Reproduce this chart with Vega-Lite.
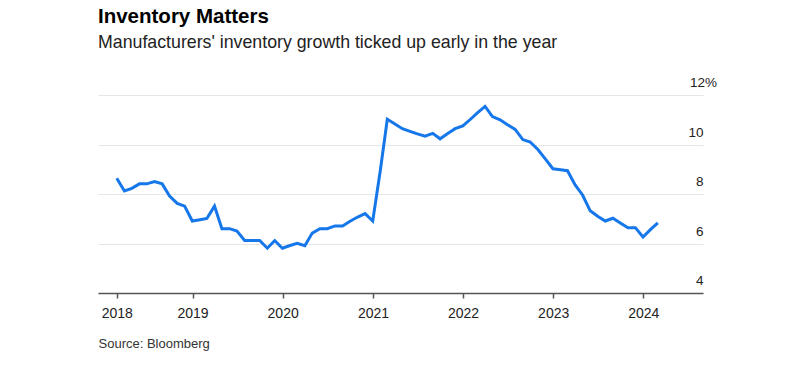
{
  "$schema": "https://vega.github.io/schema/vega-lite/v6.json",
  "width": 605,
  "height": 198,
  "autosize": {"type": "none"},
  "padding": {"left": 98, "top": 95, "right": 96, "bottom": 74},
  "background": "white",
  "title": {
    "text": "Inventory Matters",
    "subtitle": "Manufacturers' inventory growth ticked up early in the year",
    "anchor": "start",
    "frame": "group",
    "offset": 24,
    "font": "Liberation Sans",
    "fontSize": 20.5,
    "fontWeight": "bold",
    "color": "#000000",
    "subtitleFont": "Liberation Sans",
    "subtitleFontSize": 17.75,
    "subtitleColor": "#222222",
    "subtitlePadding": 6.5
  },
  "config": {
    "view": {"stroke": null},
    "axis": {"labelFont": "Liberation Sans", "titleFont": "Liberation Sans"}
  },
  "data": {
    "values": [
      {"date": "2018-02-28", "value": 8.64},
      {"date": "2018-03-31", "value": 8.12},
      {"date": "2018-04-30", "value": 8.23},
      {"date": "2018-05-31", "value": 8.41},
      {"date": "2018-06-30", "value": 8.41},
      {"date": "2018-07-31", "value": 8.50},
      {"date": "2018-08-31", "value": 8.41},
      {"date": "2018-09-30", "value": 7.92},
      {"date": "2018-10-31", "value": 7.62},
      {"date": "2018-11-30", "value": 7.51},
      {"date": "2018-12-31", "value": 6.91},
      {"date": "2019-01-31", "value": 6.96},
      {"date": "2019-02-28", "value": 7.01},
      {"date": "2019-03-31", "value": 7.51},
      {"date": "2019-04-30", "value": 6.60},
      {"date": "2019-05-31", "value": 6.60},
      {"date": "2019-06-30", "value": 6.50},
      {"date": "2019-07-31", "value": 6.12},
      {"date": "2019-08-31", "value": 6.12},
      {"date": "2019-09-30", "value": 6.12},
      {"date": "2019-10-31", "value": 5.81},
      {"date": "2019-11-30", "value": 6.12},
      {"date": "2019-12-31", "value": 5.81},
      {"date": "2020-01-31", "value": 5.92},
      {"date": "2020-02-29", "value": 6.01},
      {"date": "2020-03-31", "value": 5.91},
      {"date": "2020-04-30", "value": 6.42},
      {"date": "2020-05-31", "value": 6.60},
      {"date": "2020-06-30", "value": 6.60},
      {"date": "2020-07-31", "value": 6.71},
      {"date": "2020-08-31", "value": 6.71},
      {"date": "2020-09-30", "value": 6.90},
      {"date": "2020-10-31", "value": 7.07},
      {"date": "2020-11-30", "value": 7.21},
      {"date": "2020-12-31", "value": 6.91},
      {"date": "2021-01-31", "value": 8.97},
      {"date": "2021-02-28", "value": 11.02},
      {"date": "2021-03-31", "value": 10.83},
      {"date": "2021-04-30", "value": 10.64},
      {"date": "2021-05-31", "value": 10.53},
      {"date": "2021-06-30", "value": 10.43},
      {"date": "2021-07-31", "value": 10.34},
      {"date": "2021-08-31", "value": 10.45},
      {"date": "2021-09-30", "value": 10.23},
      {"date": "2021-10-31", "value": 10.44},
      {"date": "2021-11-30", "value": 10.64},
      {"date": "2021-12-31", "value": 10.75},
      {"date": "2022-01-31", "value": 11.02},
      {"date": "2022-02-28", "value": 11.28},
      {"date": "2022-03-31", "value": 11.54},
      {"date": "2022-04-30", "value": 11.13},
      {"date": "2022-05-31", "value": 11.00},
      {"date": "2022-06-30", "value": 10.80},
      {"date": "2022-07-31", "value": 10.61},
      {"date": "2022-08-31", "value": 10.20},
      {"date": "2022-09-30", "value": 10.10},
      {"date": "2022-10-31", "value": 9.80},
      {"date": "2022-11-30", "value": 9.42},
      {"date": "2022-12-31", "value": 9.02},
      {"date": "2023-01-31", "value": 8.98},
      {"date": "2023-02-28", "value": 8.94},
      {"date": "2023-03-31", "value": 8.37},
      {"date": "2023-04-30", "value": 7.96},
      {"date": "2023-05-31", "value": 7.32},
      {"date": "2023-06-30", "value": 7.10},
      {"date": "2023-07-31", "value": 6.91},
      {"date": "2023-08-31", "value": 7.02},
      {"date": "2023-09-30", "value": 6.83},
      {"date": "2023-10-31", "value": 6.64},
      {"date": "2023-11-30", "value": 6.64},
      {"date": "2023-12-31", "value": 6.26},
      {"date": "2024-01-31", "value": 6.57},
      {"date": "2024-02-29", "value": 6.83}
    ]
  },
  "mark": {"type": "line", "color": "#1577ea", "strokeWidth": 3},
  "encoding": {
    "x": {
      "field": "date",
      "type": "temporal",
      "scale": {"domain": [{"year": 2017, "month": 12, "date": 14}, {"year": 2024, "month": 8, "date": 30}]},
      "axis": {
        "values": [
          {"year": 2018, "month": 2, "date": 28},
          {"year": 2019, "month": 1, "date": 1},
          {"year": 2020, "month": 1, "date": 1},
          {"year": 2021, "month": 1, "date": 1},
          {"year": 2022, "month": 1, "date": 1},
          {"year": 2023, "month": 1, "date": 1},
          {"year": 2024, "month": 1, "date": 1}
        ],
        "format": "%Y",
        "grid": false,
        "domain": true,
        "domainColor": "#555555",
        "domainWidth": 1.5,
        "ticks": true,
        "tickColor": "#555555",
        "tickSize": 5,
        "tickWidth": 1.5,
        "labelFontSize": 14,
        "labelColor": "#222222",
        "labelPadding": 8,
        "labelFlush": false,
        "title": "Source: Bloomberg",
        "titleFontSize": 13,
        "titleFontWeight": "normal",
        "titleColor": "#333333",
        "titleAnchor": "start",
        "titleAlign": "left",
        "titleBaseline": "alphabetic",
        "titleX": 0,
        "titleY": 54
      }
    },
    "y": {
      "field": "value",
      "type": "quantitative",
      "scale": {"domain": [4, 12], "nice": false, "zero": false},
      "axis": {
        "orient": "right",
        "values": [4, 6, 8, 10, 12],
        "labelExpr": "datum.value == 12 ? '12%' : datum.label",
        "grid": true,
        "gridColor": "#e6e6e6",
        "gridWidth": 1,
        "domain": false,
        "ticks": false,
        "tickSize": 0,
        "labelFontSize": 13.5,
        "labelColor": "#222222",
        "labelAlign": {"condition": {"test": "datum.value == 12", "value": "center"}, "value": "right"},
        "labelBaseline": "alphabetic",
        "labelOffset": -8.5,
        "labelPadding": 0,
        "title": null
      }
    }
  }
}
